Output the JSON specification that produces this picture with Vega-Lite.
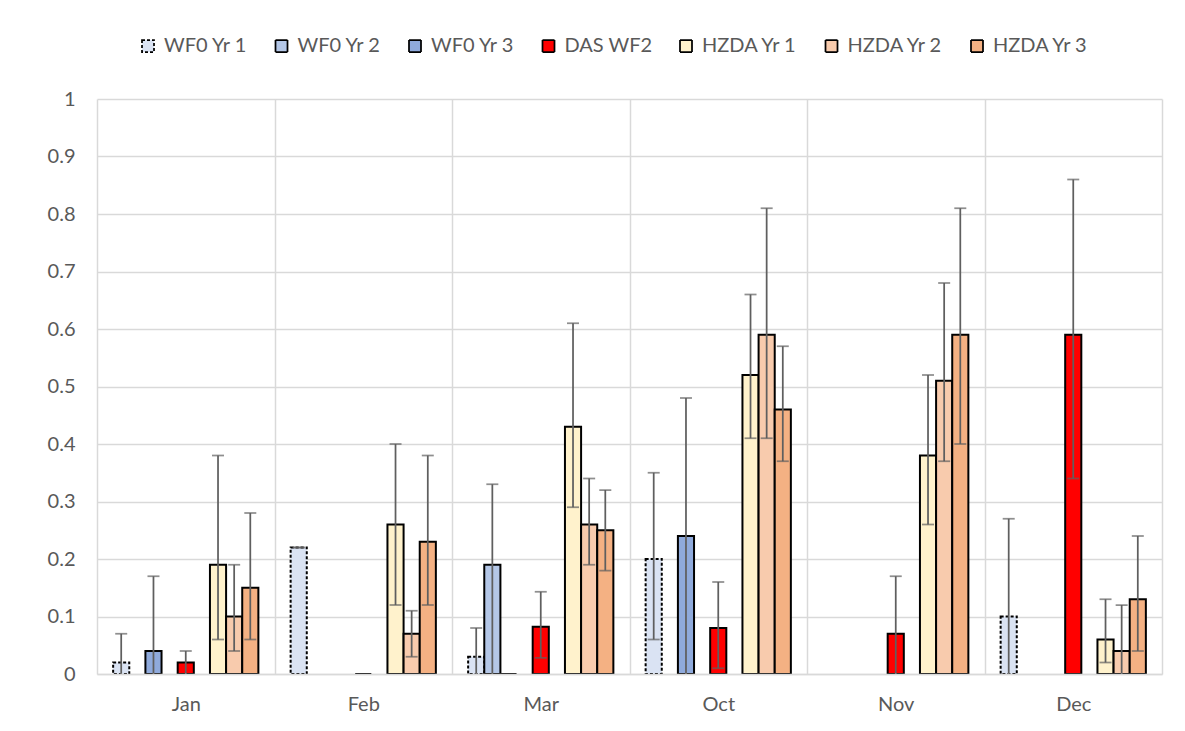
{
  "$schema": "https://vega.github.io/schema/vega-lite/v6.json",
  "width": 1065,
  "height": 575,
  "autosize": {"type": "none"},
  "padding": {"left": 97, "top": 99, "right": 23, "bottom": 57},
  "background": "white",
  "config": {
    "view": {"stroke": null},
    "font": "Lato",
    "axis": {"labelFont": "Lato", "labelFontSize": 20, "labelColor": "#595959", "title": null},
    "legend": {"labelFont": "Lato", "labelFontSize": 20, "labelColor": "#595959"}
  },
  "data": {
    "values": [
      {"month": "Jan", "series": "WF0 Yr 1", "value": 0.02, "lo": 0, "hi": 0.07},
      {"month": "Jan", "series": "WF0 Yr 3", "value": 0.04, "lo": 0, "hi": 0.17},
      {"month": "Jan", "series": "DAS WF2", "value": 0.02, "lo": 0, "hi": 0.04},
      {"month": "Jan", "series": "HZDA Yr 1", "value": 0.19, "lo": 0.06, "hi": 0.38},
      {"month": "Jan", "series": "HZDA Yr 2", "value": 0.10, "lo": 0.04, "hi": 0.19},
      {"month": "Jan", "series": "HZDA Yr 3", "value": 0.15, "lo": 0.06, "hi": 0.28},
      {"month": "Feb", "series": "WF0 Yr 1", "value": 0.22, "lo": 0.22, "hi": 0.22},
      {"month": "Feb", "series": "DAS WF2", "value": 0, "lo": null, "hi": null},
      {"month": "Feb", "series": "HZDA Yr 1", "value": 0.26, "lo": 0.12, "hi": 0.40},
      {"month": "Feb", "series": "HZDA Yr 2", "value": 0.07, "lo": 0.03, "hi": 0.11},
      {"month": "Feb", "series": "HZDA Yr 3", "value": 0.23, "lo": 0.12, "hi": 0.38},
      {"month": "Mar", "series": "WF0 Yr 1", "value": 0.03, "lo": 0, "hi": 0.08},
      {"month": "Mar", "series": "WF0 Yr 2", "value": 0.19, "lo": 0, "hi": 0.33},
      {"month": "Mar", "series": "WF0 Yr 3", "value": 0, "lo": null, "hi": null},
      {"month": "Mar", "series": "DAS WF2", "value": 0.082, "lo": 0.028, "hi": 0.143},
      {"month": "Mar", "series": "HZDA Yr 1", "value": 0.43, "lo": 0.29, "hi": 0.61},
      {"month": "Mar", "series": "HZDA Yr 2", "value": 0.26, "lo": 0.19, "hi": 0.34},
      {"month": "Mar", "series": "HZDA Yr 3", "value": 0.25, "lo": 0.18, "hi": 0.32},
      {"month": "Oct", "series": "WF0 Yr 1", "value": 0.20, "lo": 0.06, "hi": 0.35},
      {"month": "Oct", "series": "WF0 Yr 3", "value": 0.24, "lo": 0, "hi": 0.48},
      {"month": "Oct", "series": "DAS WF2", "value": 0.08, "lo": 0.01, "hi": 0.16},
      {"month": "Oct", "series": "HZDA Yr 1", "value": 0.52, "lo": 0.41, "hi": 0.66},
      {"month": "Oct", "series": "HZDA Yr 2", "value": 0.59, "lo": 0.41, "hi": 0.81},
      {"month": "Oct", "series": "HZDA Yr 3", "value": 0.46, "lo": 0.37, "hi": 0.57},
      {"month": "Nov", "series": "DAS WF2", "value": 0.07, "lo": 0, "hi": 0.17},
      {"month": "Nov", "series": "HZDA Yr 1", "value": 0.38, "lo": 0.26, "hi": 0.52},
      {"month": "Nov", "series": "HZDA Yr 2", "value": 0.51, "lo": 0.37, "hi": 0.68},
      {"month": "Nov", "series": "HZDA Yr 3", "value": 0.59, "lo": 0.40, "hi": 0.81},
      {"month": "Dec", "series": "WF0 Yr 1", "value": 0.10, "lo": 0, "hi": 0.27},
      {"month": "Dec", "series": "DAS WF2", "value": 0.59, "lo": 0.34, "hi": 0.86},
      {"month": "Dec", "series": "HZDA Yr 1", "value": 0.06, "lo": 0.02, "hi": 0.13},
      {"month": "Dec", "series": "HZDA Yr 2", "value": 0.04, "lo": 0, "hi": 0.12},
      {"month": "Dec", "series": "HZDA Yr 3", "value": 0.13, "lo": 0.04, "hi": 0.24}
    ]
  },
  "encoding": {
    "x": {
      "field": "month", "type": "nominal",
      "sort": ["Jan", "Feb", "Mar", "Oct", "Nov", "Dec"],
      "scale": {"domain": ["Jan", "Feb", "Mar", "Oct", "Nov", "Dec"], "paddingInner": 0, "paddingOuter": 0},
      "axis": {
        "labelAngle": 0, "grid": true, "tickBand": "extent", "gridColor": "#d9d9d9", "gridWidth": 1.5,
        "domain": true, "domainColor": "#d9d9d9", "domainWidth": 1.5, "ticks": false, "tickSize": 0,
        "labelPadding": 20, "zindex": 1
      }
    },
    "xOffset": {
      "field": "series", "type": "nominal",
      "scale": {
        "domain": ["WF0 Yr 1", "WF0 Yr 2", "WF0 Yr 3", "gap1", "DAS WF2", "gap2", "HZDA Yr 1", "HZDA Yr 2", "HZDA Yr 3"],
        "paddingInner": 0, "paddingOuter": 1.5
      }
    }
  },
  "layer": [
    {
      "mark": {"type": "bar", "stroke": "black", "strokeWidth": 2},
      "encoding": {
        "y": {
          "field": "value", "type": "quantitative",
          "scale": {"domain": [0, 1], "nice": false},
          "axis": {
            "values": [0, 0.1, 0.2, 0.3, 0.4, 0.5, 0.6, 0.7, 0.8, 0.9, 1],
            "format": ".1~f", "domain": false, "ticks": false, "tickSize": 0,
            "grid": true, "gridColor": "#d9d9d9", "gridWidth": 1.5, "labelPadding": 22
          }
        },
        "color": {
          "field": "series", "type": "nominal",
          "scale": {
            "domain": ["WF0 Yr 1", "WF0 Yr 2", "WF0 Yr 3", "DAS WF2", "HZDA Yr 1", "HZDA Yr 2", "HZDA Yr 3"],
            "range": ["#dae3f3", "#b4c7e7", "#8faadc", "#ff0000", "#fff2cc", "#f8cbad", "#f4b183"]
          },
          "legend": {
            "title": null, "orient": "none", "legendX": 41, "legendY": -63,
            "direction": "horizontal", "columns": 7, "columnPadding": 23.5,
            "symbolType": "square", "symbolSize": 144, "symbolStrokeColor": "black", "symbolStrokeWidth": 1.5,
            "labelOffset": 6, "padding": 0,
            "encode": {"symbols": {"update": {"stroke": {"value": "black"}, "strokeWidth": {"value": 1.75}}}}
          }
        },
        "strokeDash": {
          "field": "series", "type": "nominal",
          "scale": {
            "domain": ["WF0 Yr 1", "WF0 Yr 2", "WF0 Yr 3", "DAS WF2", "HZDA Yr 1", "HZDA Yr 2", "HZDA Yr 3"],
            "range": [[3, 2], [1, 0], [1, 0], [1, 0], [1, 0], [1, 0], [1, 0]]
          },
          "legend": {
            "title": null, "orient": "none", "legendX": 41, "legendY": -63,
            "direction": "horizontal", "columns": 7, "columnPadding": 23.5,
            "symbolType": "square", "symbolSize": 144, "symbolStrokeColor": "black", "symbolStrokeWidth": 1.5,
            "labelOffset": 6, "padding": 0,
            "encode": {"symbols": {"update": {"stroke": {"value": "black"}, "strokeWidth": {"value": 1.75}}}}
          }
        }
      }
    },
    {
      "transform": [{"filter": "datum.hi != null"}],
      "mark": {"type": "rule", "color": "#5f5f5f", "strokeWidth": 1.75},
      "encoding": {
        "y": {"field": "lo", "type": "quantitative"},
        "y2": {"field": "hi"}
      }
    },
    {
      "transform": [{"filter": "datum.hi != null"}],
      "mark": {"type": "tick", "color": "#5f5f5f", "size": 12, "thickness": 1.75},
      "encoding": {
        "y": {"field": "hi", "type": "quantitative"}
      }
    },
    {
      "transform": [{"filter": "datum.lo != null && datum.lo > 0"}],
      "mark": {"type": "tick", "color": "#5f5f5f", "size": 12, "thickness": 1.75},
      "encoding": {
        "y": {"field": "lo", "type": "quantitative"}
      }
    }
  ]
}
